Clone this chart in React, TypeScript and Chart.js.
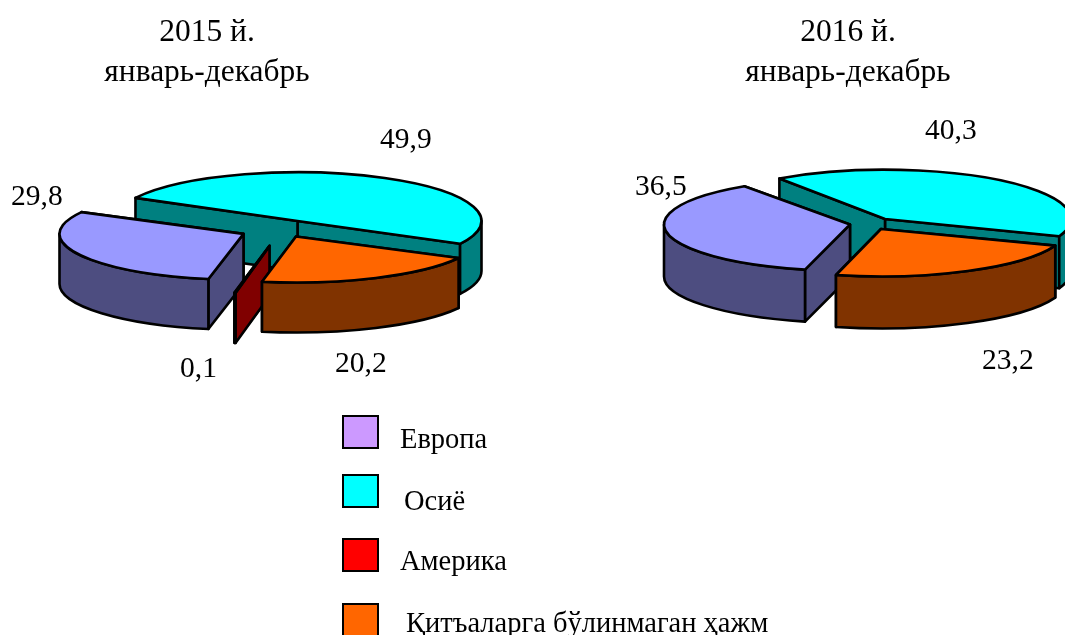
import React, { useEffect, useRef } from "react";
import { Chart, registerables } from "chart.js";

Chart.register(...registerables);

const FONT = '"Liberation Serif", "Times New Roman", serif';
const TITLE_PX = 31.5;
const LABEL_PX = 29.5;
const LEGEND_PX = 28.5;

const categories2015 = ["Европа", "Осиё", "Қитъаларга бўлинмаган ҳажм", "Америка"];
const values2015 = [29.8, 49.9, 20.2, 0.1];
const categories2016 = ["Европа", "Осиё", "Қитъаларга бўлинмаган ҳажм"];
const values2016 = [36.5, 40.3, 23.2];
const sliceColors2015 = ["#9999FF", "#00FFFF", "#FF6600", "#FF0000"];
const sliceColors2016 = ["#9999FF", "#00FFFF", "#FF6600"];
const titles2015 = ["2015 й.", "январь-декабрь"];
const titles2016 = ["2016 й.", "январь-декабрь"];
const legendLabels = ["Европа", "Осиё", "Америка", "Қитъаларга бўлинмаган ҳажм"];
const legendColors = ["#CC99FF", "#00FFFF", "#FF0000", "#FF6600"];

const fmt = (v: number) => v.toFixed(1).replace(".", ",");
const darken = (hex: string) => {
  const n = parseInt(hex.slice(1), 16);
  const c = [(n >> 16) & 255, (n >> 8) & 255, n & 255].map((v) => Math.round(v / 2));
  return `rgb(${c[0]},${c[1]},${c[2]})`;
};

function pie3dPlugin(cfg: any) {
  return {
    id: "pie3d",
    beforeDatasetsDraw(chart: any) {
      const ctx = chart.ctx as CanvasRenderingContext2D;
      const meta = chart.getDatasetMeta(0);
      const { squash, depth, shift, order } = cfg;
      ctx.save();
      ctx.lineWidth = 2.6;
      ctx.strokeStyle = "#000";
      ctx.lineJoin = "round";
      for (const i of order) {
        const arc = meta.data[i];
        const { x, y, startAngle: s, endAngle: e, outerRadius: r } = arc;
        const color = arc.options.backgroundColor as string;
        const side = darken(color);
        const cx = x + shift[i][0];
        const cy = y + shift[i][1];
        const q = squash[i];
        const rim = (a: number) => [cx + r * Math.cos(a), cy + r * q * Math.sin(a)];
        const paint = (fill: string) => {
          ctx.fillStyle = fill;
          ctx.fill();
          ctx.stroke();
        };
        for (const a of [e, s]) {
          const [px, py] = rim(a);
          ctx.beginPath();
          ctx.moveTo(cx, cy);
          ctx.lineTo(px, py);
          ctx.lineTo(px, py + depth);
          ctx.lineTo(cx, cy + depth);
          ctx.closePath();
          paint(side);
        }
        for (let k = -2; k <= 2; k++) {
          const lo = Math.max(s, 2 * Math.PI * k);
          const hi = Math.min(e, 2 * Math.PI * k + Math.PI);
          if (hi <= lo) continue;
          ctx.beginPath();
          ctx.ellipse(cx, cy, r, r * q, 0, lo, hi);
          ctx.ellipse(cx, cy + depth, r, r * q, 0, hi, lo, true);
          ctx.closePath();
          paint(side);
        }
        ctx.beginPath();
        ctx.moveTo(cx, cy);
        ctx.ellipse(cx, cy, r, r * q, 0, s, e);
        ctx.closePath();
        paint(color);
      }
      ctx.restore();
      return false;
    },
    afterDraw(chart: any) {
      const ctx = chart.ctx as CanvasRenderingContext2D;
      ctx.save();
      ctx.fillStyle = "#000";
      ctx.textBaseline = "alphabetic";
      ctx.textAlign = "center";
      ctx.font = `${TITLE_PX}px ${FONT}`;
      cfg.titles.forEach((t: string, i: number) => ctx.fillText(t, cfg.titleX, cfg.titleY[i]));
      ctx.textAlign = "left";
      ctx.font = `${LABEL_PX}px ${FONT}`;
      const vals = chart.data.datasets[0].data as number[];
      cfg.labelAt.forEach((p: number[], i: number) => ctx.fillText(fmt(vals[i]), p[0], p[1]));
      if (cfg.legend) {
        ctx.font = `${LEGEND_PX}px ${FONT}`;
        legendLabels.forEach((t, i) => {
          const [sy, sh, tx, ty] = cfg.legend[i];
          ctx.fillStyle = legendColors[i];
          ctx.fillRect(343, sy, 35, sh);
          ctx.strokeStyle = "#000";
          ctx.lineWidth = 2;
          ctx.strokeRect(343, sy, 35, sh);
          ctx.fillStyle = "#000";
          ctx.fillText(t, tx, ty);
        });
      }
      ctx.restore();
    },
  };
}

function makeChart(canvas: HTMLCanvasElement, labels: string[], data: number[], colors: string[], rotation: number, radius: number, padding: any, cfg: any) {
  return new Chart(canvas, {
    type: "pie",
    data: { labels, datasets: [{ data, backgroundColor: colors, borderWidth: 0 }] },
    options: {
      animation: false,
      responsive: false,
      events: [],
      rotation,
      radius,
      layout: { padding },
      plugins: { legend: { display: false }, title: { display: false }, tooltip: { enabled: false } },
    },
    plugins: [pie3dPlugin(cfg)],
  } as any);
}

export default function App() {
  const a = useRef<HTMLCanvasElement>(null);
  const b = useRef<HTMLCanvasElement>(null);
  useEffect(() => {
    const c1 = makeChart(a.current!, categories2015, values2015, sliceColors2015, 191, 184,
      { left: 0, right: 506, top: 0, bottom: 170 },
      {
        squash: [0.25, 0.265, 0.25, 0.26], depth: 50,
        shift: [[-36, 1.4], [18, -11.5], [16.5, 4], [-10, 13.4]], order: [1, 0, 3, 2],
        titles: titles2015, titleX: 207, titleY: [40.5, 81],
        labelAt: [[11, 205], [380, 148], [335, 372], [180, 377]],
        legend: [[416, 32, 400, 448], [475, 32, 404, 510], [539, 32, 400, 570], [604, 32, 406, 632]],
      });
    const c2 = makeChart(b.current!, categories2016, values2016, sliceColors2016, 194, 186,
      { left: 679, right: 0, top: 0, bottom: 187 },
      {
        squash: [0.25, 0.265, 0.255], depth: 52,
        shift: [[-22, 0.5], [13, -5], [9, 5]], order: [1, 0, 2],
        titles: titles2016, titleX: 848, titleY: [40.5, 81],
        labelAt: [[635, 195], [925, 139], [982, 369]],
      });
    return () => { c1.destroy(); c2.destroy(); };
  }, []);
  const st: React.CSSProperties = { position: "absolute", left: 0, top: 0 };
  return (
    <div style={{ position: "absolute", left: 0, top: 0, width: 1065, height: 635, overflow: "hidden", background: "#fff" }}>
      <canvas ref={a} width={1065} height={635} style={st} />
      <canvas ref={b} width={1065} height={635} style={st} />
    </div>
  );
}
